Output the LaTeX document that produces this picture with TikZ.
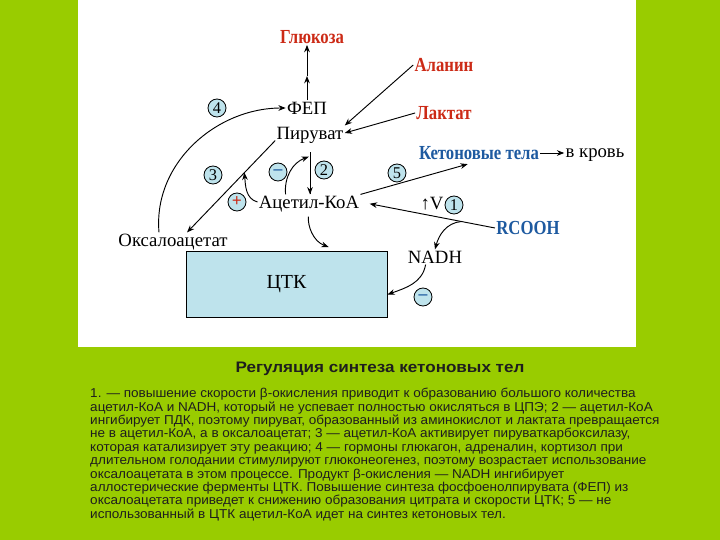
\documentclass[tikz,border=0pt]{standalone}
\usepackage{fontspec}
\setmainfont{Liberation Serif}
\newfontfamily\boldlab[FakeStretch=0.84]{Liberation Serif}
\newfontfamily\capfont[FakeStretch=1.05]{Liberation Sans}
\newfontfamily\titlefont[FakeStretch=1.12]{Liberation Sans}
\usepackage{xcolor}
\usepackage{tikz}
\usetikzlibrary{arrows.meta, positioning, calc}
\definecolor{leaf}{HTML}{99CC00}
\definecolor{pale}{HTML}{BEE3EC}
\definecolor{redlab}{HTML}{CC2A16}
\definecolor{bluelab}{HTML}{1E5AA0}
\definecolor{ink}{HTML}{1E1E1E}
\tikzset{
  lbl/.style={inner sep=1pt, text depth=0pt, font=\fontsize{16}{18}\selectfont},
  srclbl/.style={lbl, text=redlab, font=\boldlab\fontsize{17}{19}\selectfont\bfseries},
  bluelbl/.style={lbl, text=bluelab, font=\boldlab\fontsize{17}{19}\selectfont\bfseries},
  numcirc/.style={circle, draw=black, fill=pale, line width=0.7pt, minimum size=0.54cm, inner sep=0pt, font=\fontsize{14}{14}\selectfont},
  tcabox/.style={rectangle, draw=black, fill=pale, line width=0.8pt, minimum width=6.03cm, minimum height=1.98cm, font=\fontsize{17}{18}\selectfont},
  arrow/.style={-{Stealth[length=2.2mm, width=1.7mm]}, line width=0.8pt},
  plainline/.style={line width=0.8pt},
  captitle/.style={inner sep=0pt, text=ink, font=\titlefont\fontsize{13}{15}\selectfont\bfseries},
  captext/.style={inner sep=0pt, text=ink, align=left, font=\capfont\fontsize{11}{11.43}\selectfont},
}
\begin{document}
\begin{tikzpicture}[x=0.03cm, y=-0.03cm]
  \useasboundingbox (0,0) rectangle (720,540);
  \fill[leaf] (0,0) rectangle (720,540);
  \fill[white] (78,0) rectangle (636,347);

  % metabolites
  \node[srclbl] (gluc) at (312,37) {Глюкоза};
  \node[lbl] (fep) at (307,108) {ФЕП};
  \node[lbl] (pyr) at (310,133) {Пируват};
  \node[srclbl] (alanin) at (444,65) {Аланин};
  \node[srclbl] (lactate) at (444,113) {Лактат};
  \node[bluelbl] (keto) at (479,153) {Кетоновые тела};
  \node[lbl] (blood) at (595,153) {в кровь};
  \node[lbl] (acetyl) at (309,202) {Ацетил-КоА};
  \node[bluelbl] (rcooh) at (528,228) {RCOOH};
  \node[lbl] (nadh) at (435,257) {NADH};
  \node[lbl] (oxal) at (173,240) {Оксалоацетат};
  \node[tcabox] (tca) at (286.5,284) {ЦТК};
  \node[lbl] (rate) at (432,203) {↑V};

  % numbered steps and effects
  \node[numcirc] (n1) at (454,205) {1};
  \node[numcirc] (n2) at (324,170) {2};
  \node[numcirc] (n3) at (213,175) {3};
  \node[numcirc] (n4) at (217,108) {4};
  \node[numcirc] (n5) at (397,173) {5};
  \node[numcirc, text=redlab, font=\fontsize{15}{15}\selectfont\bfseries] (plus) at (237,202) {+};
  \node[numcirc, text=bluelab, font=\fontsize{15}{15}\selectfont\bfseries] (minus2) at (278,172) {--};
  \node[numcirc, text=bluelab, font=\fontsize{15}{15}\selectfont\bfseries] (minus1) at (423,297) {--};

  % gluconeogenesis
  \coordinate (glmid) at (fep.north |- 0,76);
  \draw[arrow] (fep.north) -- (glmid);
  \draw[arrow] (glmid) -- (fep.north |- gluc.south) ;
  \draw[arrow] (alanin.west) -- (pyr.north east);
  \draw[arrow] (lactate.west) -- (pyr.east);
  \draw[arrow] (oxal.north) ++(-14,0) coordinate (oxup) (oxup) to[out=95, in=180] (fep.west);

  % pyruvate branches
  \draw[plainline, shorten <=10pt] (pyr.south) -- coordinate[pos=0.3] (inh2) (pyr.south |- acetyl.north);
  \draw[arrow] (pyr.south |- 0,185) -- (pyr.south |- acetyl.north);
  \draw[arrow] (pyr.south west) -- coordinate[pos=0.35] (act3) ([xshift=12pt]oxal.north);
  \draw[arrow] ([xshift=-20pt]acetyl.north) to[out=95, in=200] ([xshift=-1pt]inh2);
  \draw[arrow] (acetyl.west) to[out=165, in=-85] (act3);

  % acetyl-CoA fate
  \draw[arrow, shorten >=10pt] (acetyl.north east) -- (keto.south);
  \draw[arrow] (keto.east) -- (blood.west);
  \draw[arrow, shorten <=6pt] (acetyl.south) to[out=-95, in=160] ([xshift=36pt, yshift=3pt]tca.north);
  \draw[arrow, shorten >=8pt] (rcooh.west) -- coordinate[pos=0.25] (branch) (acetyl.east);
  \draw[arrow] (branch) to[out=185, in=75] (nadh.north);
  \draw[arrow] ([xshift=-8pt]nadh.south) to[out=-100, in=20] ([yshift=-9pt]tca.east);

  % caption
  \node[captitle] (title) at (380,369) {Регуляция синтеза кетоновых тел};
  \node[captext, anchor=north west] (expl) at (90,388) {1. — повышение скорости β-окисления приводит к образованию большого количества\\
ацетил-КоА и NADH, который не успевает полностью окисляться в ЦПЭ; 2 — ацетил-КоА\\
ингибирует ПДК, поэтому пируват, образованный из аминокислот и лактата превращается\\
не в ацетил-КоА, а в оксалоацетат; 3 — ацетил-КоА активирует пируваткарбоксилазу,\\
которая катализирует эту реакцию; 4 — гормоны глюкагон, адреналин, кортизол при\\
длительном голодании стимулируют глюконеогенез, поэтому возрастает использование\\
оксалоацетата в этом процессе. Продукт β-окисления — NADH ингибирует\\
аллостерические ферменты ЦТК. Повышение синтеза фосфоенолпирувата (ФЕП) из\\
оксалоацетата приведет к снижению образования цитрата и скорости ЦТК; 5 — не\\
использованный в ЦТК ацетил-КоА идет на синтез кетоновых тел.};
\end{tikzpicture}
\end{document}
